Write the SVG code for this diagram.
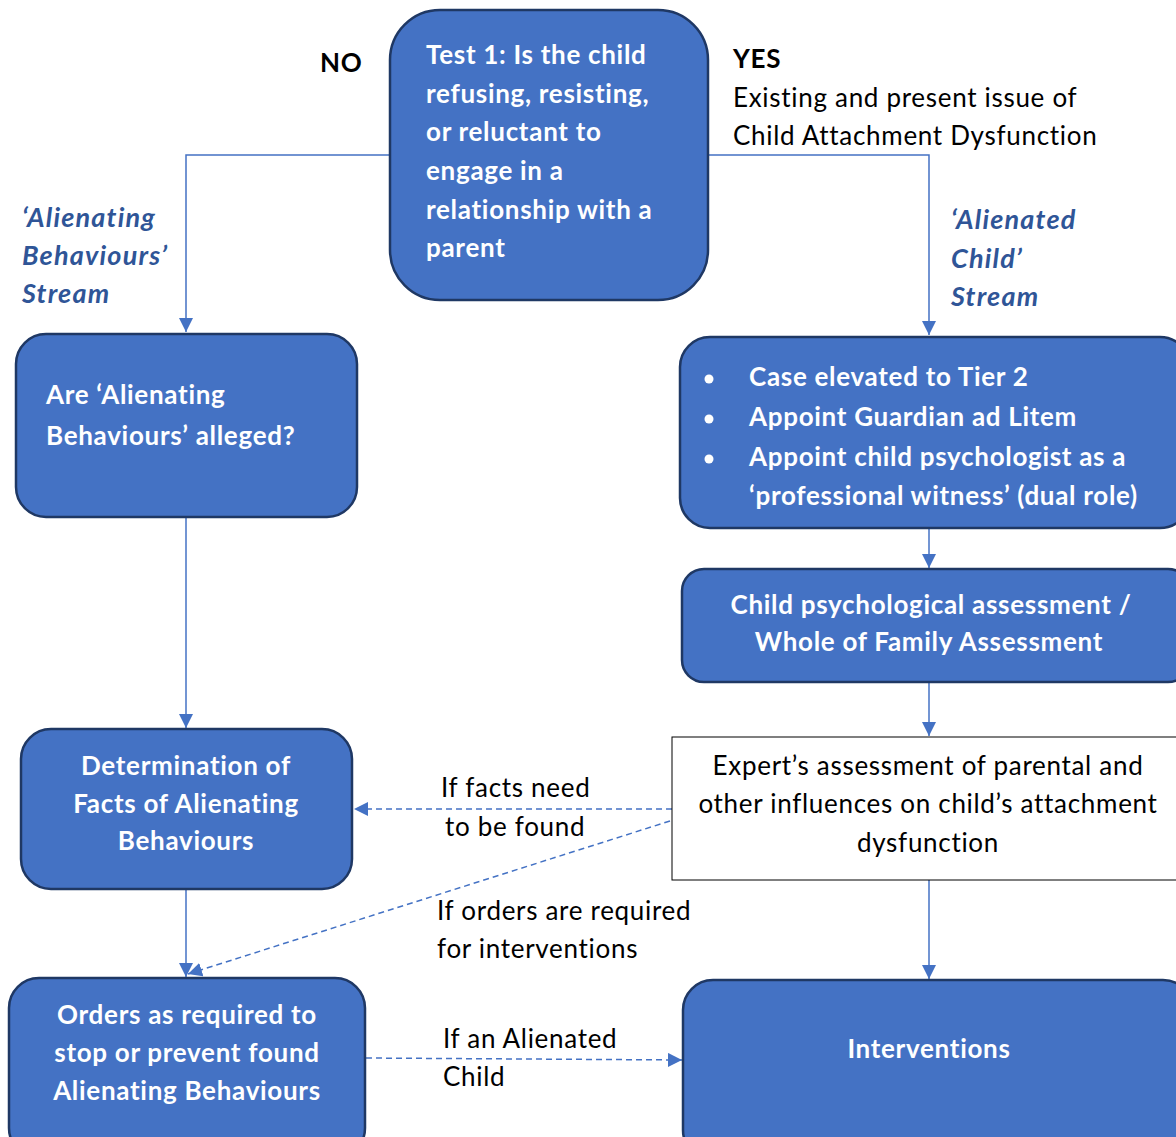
<svg xmlns="http://www.w3.org/2000/svg" width="1176" height="1137" viewBox="0 0 1176 1137">
<defs>
<style>
.node{fill:#4472C4;stroke:#1F3864;stroke-width:2.5}
.wt{fill:#fff;font-family:Lato,"Open Sans",sans-serif;font-weight:bold;font-size:26px;letter-spacing:0.7px}
.bt{fill:#000;font-family:Lato,"Open Sans",sans-serif;font-size:26px;letter-spacing:0.7px}
.bb{fill:#000;font-family:Lato,"Open Sans",sans-serif;font-weight:bold;font-size:26px;letter-spacing:0.7px}
.st{fill:#2F5597;font-family:Lato,"Open Sans",sans-serif;font-weight:bold;font-style:italic;font-size:27px;letter-spacing:1.2px}
.ln{fill:none;stroke:#4472C4;stroke-width:1.5}
.dl{fill:none;stroke:#4472C4;stroke-width:1.5;stroke-dasharray:6 4}
.c{text-anchor:middle}
</style>
<marker id="ahl" viewBox="0 0 10 10" refX="10" refY="5" markerWidth="14" markerHeight="14" markerUnits="userSpaceOnUse" orient="auto">
<path d="M0,0 L10,5 L0,10 z" fill="#4472C4"/>
</marker>
</defs>
<rect width="1176" height="1137" fill="#fff"/>
<g id="connectors">
<path class="ln" d="M390,155 H186 V332" marker-end="url(#ahl)"/>
<path class="ln" d="M708,155 H929 V335" marker-end="url(#ahl)"/>
<path class="ln" d="M929,528 V568" marker-end="url(#ahl)"/>
<path class="ln" d="M929,682 V736" marker-end="url(#ahl)"/>
<path class="ln" d="M929,880 V979" marker-end="url(#ahl)"/>
<path class="ln" d="M186,517 V728" marker-end="url(#ahl)"/>
<path class="ln" d="M186,889 V977" marker-end="url(#ahl)"/>
<path class="dl" d="M672,809 H354" marker-end="url(#ahl)"/>
<path class="dl" d="M670,821 L188,974" marker-end="url(#ahl)"/>
<path class="dl" d="M366,1058 L682,1060" marker-end="url(#ahl)"/>
</g>
<g id="labels">
<text class="bb" x="320" y="72">NO</text>
<text class="bb" x="733" y="68">YES</text>
<text class="bt" x="733" y="107">Existing and present issue of</text>
<text class="bt" x="733" y="145">Child Attachment Dysfunction</text>
<text class="st" x="22" y="227">‘Alienating</text>
<text class="st" x="22" y="265">Behaviours’</text>
<text class="st" x="22" y="303">Stream</text>
<text class="st" x="951" y="229">‘Alienated</text>
<text class="st" x="951" y="268">Child’</text>
<text class="st" x="951" y="306">Stream</text>
<text class="bt" x="441" y="797">If facts need</text>
<text class="bt" x="445" y="836">to be found</text>
<text class="bt" x="437" y="920">If orders are required</text>
<text class="bt" x="437" y="958">for interventions</text>
<text class="bt" x="443" y="1048">If an Alienated</text>
<text class="bt" x="443" y="1086">Child</text>
</g>
<g id="test1">
<rect class="node" x="390" y="10" width="318" height="290" rx="50"/>
<text class="wt" x="426" y="64">Test 1: Is the child</text>
<text class="wt" x="426" y="103">refusing, resisting,</text>
<text class="wt" x="426" y="141">or reluctant to</text>
<text class="wt" x="426" y="180">engage in a</text>
<text class="wt" x="426" y="219">relationship with a</text>
<text class="wt" x="426" y="257">parent</text>
</g>
<g id="alleged">
<rect class="node" x="16" y="334" width="341" height="183" rx="30"/>
<text class="wt" x="46" y="404">Are ‘Alienating</text>
<text class="wt" x="46" y="445">Behaviours’ alleged?</text>
</g>
<g id="tier2">
<rect class="node" x="680" y="337" width="510" height="191" rx="30"/>
<circle cx="709" cy="379" r="4.5" fill="#fff"/>
<circle cx="709" cy="419" r="4.5" fill="#fff"/>
<circle cx="709" cy="459" r="4.5" fill="#fff"/>
<text class="wt" x="749" y="386">Case elevated to Tier 2</text>
<text class="wt" x="749" y="426">Appoint Guardian ad Litem</text>
<text class="wt" x="749" y="466">Appoint child psychologist as a</text>
<text class="wt" x="749" y="505">‘professional witness’ (dual role)</text>
</g>
<g id="assessment">
<rect class="node" x="682" y="569" width="508" height="113" rx="22"/>
<text class="wt c" x="931" y="614">Child psychological assessment /</text>
<text class="wt c" x="929" y="651">Whole of Family Assessment</text>
</g>
<g id="expert">
<rect x="672" y="737" width="510" height="143" fill="#fff" stroke="#000" stroke-width="1"/>
<text class="bt c" x="928" y="775">Expert’s assessment of parental and</text>
<text class="bt c" x="928" y="813">other influences on child’s attachment</text>
<text class="bt c" x="928" y="852">dysfunction</text>
</g>
<g id="determination">
<rect class="node" x="21" y="729" width="331" height="160" rx="30"/>
<text class="wt c" x="186" y="775">Determination of</text>
<text class="wt c" x="186" y="813">Facts of Alienating</text>
<text class="wt c" x="186" y="850">Behaviours</text>
</g>
<g id="orders">
<rect class="node" x="9" y="978" width="356" height="180" rx="30"/>
<text class="wt c" x="187" y="1024">Orders as required to</text>
<text class="wt c" x="187" y="1062">stop or prevent found</text>
<text class="wt c" x="187" y="1100">Alienating Behaviours</text>
</g>
<g id="interventions">
<rect class="node" x="683" y="980" width="510" height="180" rx="30"/>
<text class="wt c" x="929" y="1058">Interventions</text>
</g>
</svg>
